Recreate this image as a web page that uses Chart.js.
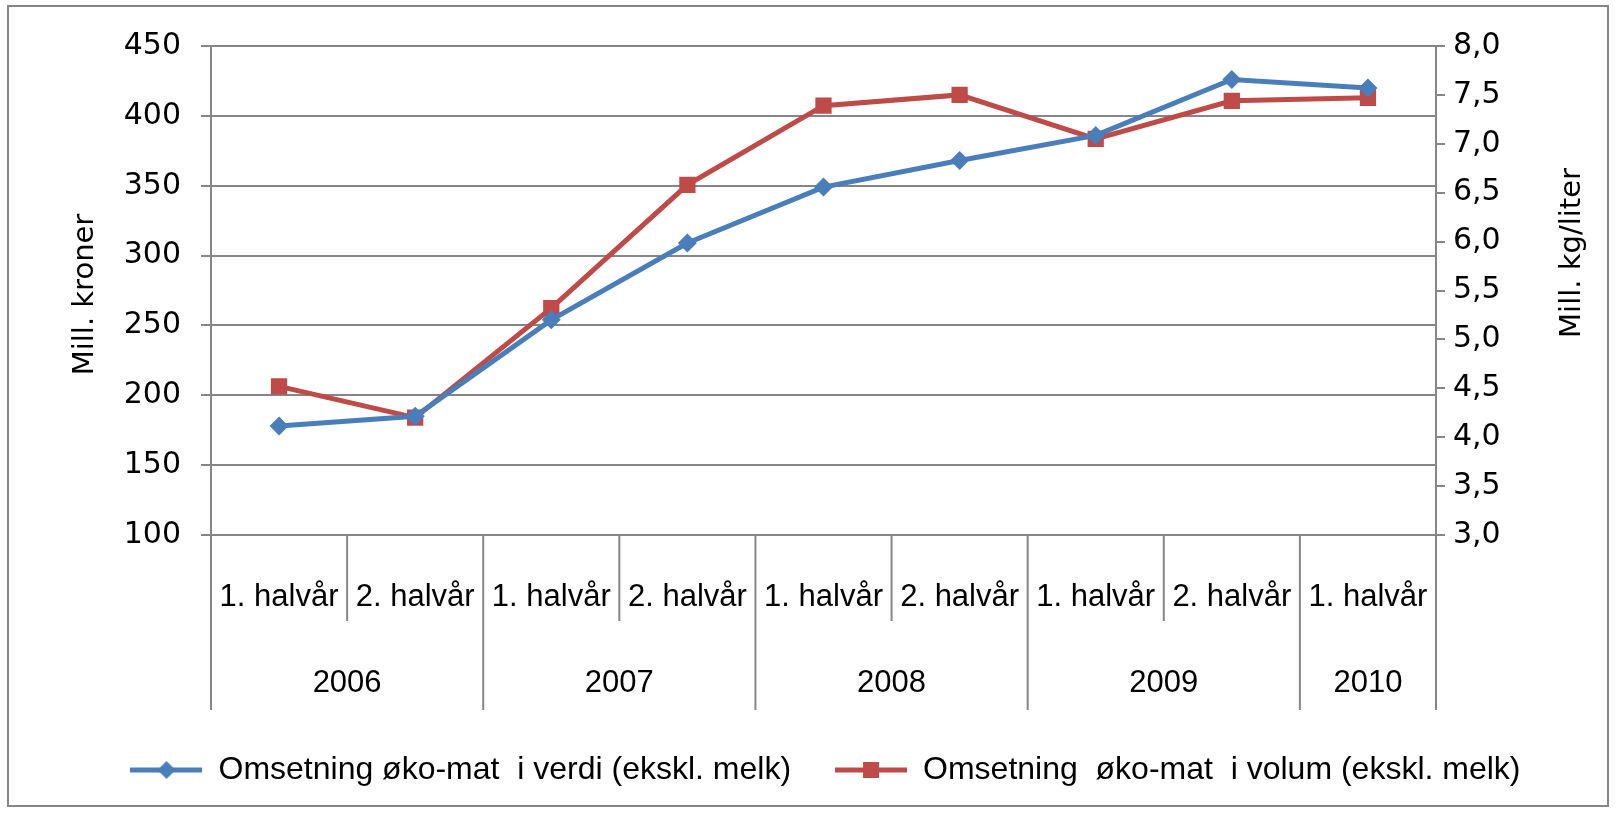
<!DOCTYPE html>
<html>
<head>
<meta charset="utf-8">
<script src="https://cdn.jsdelivr.net/npm/chart.js@4.4.1/dist/chart.umd.min.js"></script>
<style>
    html, body { margin: 0; padding: 0; background: #fff; }
    #wrap { width: 1617px; height: 813px; position: relative; }
</style>
</head>
<body>
<div id="wrap"><canvas id="salesChart"></canvas></div>
<script>
// half-year categories and the year each one belongs to
const periods = ['1. halvår', '2. halvår', '1. halvår', '2. halvår', '1. halvår', '2. halvår', '1. halvår', '2. halvår', '1. halvår'];
const years = ['2006', '2006', '2007', '2007', '2008', '2008', '2009', '2009', '2010'];

// Mill. kroner (left axis)
const valueSales = [178, 185, 254, 309, 349, 368, 386, 426, 420];
// Mill. kg/liter (right axis)
const volumeSales = [4.52, 4.20, 5.32, 6.58, 7.39, 7.50, 7.05, 7.44, 7.47];

const leftTicks = [100, 150, 200, 250, 300, 350, 400, 450];
const rightTicks = ['3,0', '3,5', '4,0', '4,5', '5,0', '5,5', '6,0', '6,5', '7,0', '7,5', '8,0'];

const seriesNames = ['Omsetning øko-mat  i verdi (ekskl. melk)', 'Omsetning  øko-mat  i volum (ekskl. melk)'];
const axisTitles = ['Mill. kroner', 'Mill. kg/liter'];

const blue = '#4A7EBB';
const red = '#BE4B48';
const gridGray = '#868686';
const numFont = '"DejaVu Sans", Verdana, sans-serif';
const textFont = '"Liberation Sans", Arial, sans-serif';

// small line + marker picture used as the legend symbol
function legendSymbol(color, shape) {
    const c = document.createElement('canvas');
    c.width = 72;
    c.height = 24;
    const g = c.getContext('2d');
    g.strokeStyle = color;
    g.fillStyle = color;
    g.lineWidth = 5;
    g.beginPath();
    g.moveTo(0, 12);
    g.lineTo(72, 12);
    g.stroke();
    g.beginPath();
    if (shape === 'diamond') {
        g.moveTo(36, 3); g.lineTo(45, 12); g.lineTo(36, 21); g.lineTo(27, 12);
    } else {
        g.rect(28, 4, 16, 16);
    }
    g.closePath();
    g.fill();
    return c;
}

// separators of the two-level category axis, year labels, axis titles and frame
const chartDecor = {
    id: 'chartDecor',
    afterDraw(chart) {
        const ctx = chart.ctx;
        const x = chart.scales.x;
        const y = chart.scales.y;
        ctx.save();
        ctx.strokeStyle = gridGray;
        ctx.lineWidth = 2;

        for (let i = -1; i < periods.length; i++) {
            let px;
            if (i < 0) px = x.left;
            else if (i === periods.length - 1) px = x.right;
            else px = (x.getPixelForValue(i) + x.getPixelForValue(i + 1)) / 2;
            const yearBreak = i < 0 || i === periods.length - 1 || years[i] !== years[i + 1];
            ctx.beginPath();
            ctx.moveTo(px, x.top);
            ctx.lineTo(px, yearBreak ? x.bottom : x.top + 86);
            ctx.stroke();
        }

        ctx.fillStyle = '#000';
        ctx.font = '31px ' + textFont;
        ctx.textAlign = 'center';
        ctx.textBaseline = 'middle';
        const seen = [...new Set(years)];
        seen.forEach(yr => {
            const first = years.indexOf(yr);
            const last = years.lastIndexOf(yr);
            const cx = (x.getPixelForValue(first) + x.getPixelForValue(last)) / 2;
            ctx.fillText(yr, cx, x.top + 148);
        });

        ctx.font = '29px ' + numFont;
        ctx.save();
        ctx.translate(85, (y.top + y.bottom) / 2 + 4);
        ctx.rotate(-Math.PI / 2);
        ctx.fillText(axisTitles[0], 0, 0);
        ctx.restore();
        ctx.save();
        ctx.translate(chart.width - 45, 253);
        ctx.rotate(-Math.PI / 2);
        ctx.fillText(axisTitles[1], 0, 0);
        ctx.restore();

        ctx.strokeRect(8, 6, chart.width - 17, chart.height - 13);
        ctx.restore();
    }
};

const ctx = document.getElementById('salesChart').getContext('2d');

new Chart(ctx, {
    type: 'line',
    data: {
        labels: periods,
        datasets: [{
            label: seriesNames[0],
            data: valueSales,
            yAxisID: 'y',
            borderColor: blue,
            backgroundColor: blue,
            borderWidth: 5,
            pointStyle: 'rectRot',
            pointRadius: 9.5,
            pointBorderWidth: 0,
            tension: 0
        }, {
            label: seriesNames[1],
            data: volumeSales,
            yAxisID: 'y1',
            borderColor: red,
            backgroundColor: red,
            borderWidth: 5,
            pointStyle: 'rect',
            pointRadius: 11.5,
            pointBorderWidth: 0,
            tension: 0
        }]
    },
    options: {
        responsive: true,
        maintainAspectRatio: false,
        animation: false,
        layout: {
            padding: { left: 44, right: 10, top: 46, bottom: 17 }
        },
        plugins: {
            tooltip: { enabled: false },
            legend: {
                position: 'bottom',
                labels: {
                    usePointStyle: true,
                    pointStyleWidth: 72,
                    padding: 44,
                    color: '#000',
                    font: { family: textFont, size: 32 },
                    generateLabels(chart) {
                        const items = Chart.defaults.plugins.legend.labels.generateLabels(chart);
                        items[0].pointStyle = legendSymbol(blue, 'diamond');
                        items[1].pointStyle = legendSymbol(red, 'square');
                        return items;
                    }
                }
            }
        },
        scales: {
            x: {
                offset: true,
                grid: { display: false, drawTicks: false, offset: true },
                border: { display: true, color: gridGray, width: 2 },
                ticks: {
                    color: '#000',
                    padding: 44,
                    maxRotation: 0,
                    autoSkip: false,
                    font: { family: textFont, size: 31 }
                },
                afterFit(scale) { scale.height = 175; }
            },
            y: {
                position: 'left',
                min: 100,
                max: 450,
                afterBuildTicks(scale) { scale.ticks = leftTicks.map(v => ({ value: v })); },
                grid: { color: gridGray, lineWidth: 2, tickLength: 10 },
                border: { display: true, color: gridGray, width: 2 },
                ticks: {
                    color: '#000',
                    padding: 20,
                    font: { family: numFont, size: 30 }
                },
                afterFit(scale) { scale.width = 211 - 44; }
            },
            y1: {
                position: 'right',
                min: 3,
                max: 8,
                afterBuildTicks(scale) {
                    scale.ticks = rightTicks.map(t => ({ value: parseFloat(t.replace(',', '.')) }));
                },
                grid: { drawOnChartArea: false, color: gridGray, lineWidth: 2, tickLength: 9 },
                border: { display: true, color: gridGray, width: 2 },
                ticks: {
                    color: '#000',
                    padding: 8,
                    font: { family: numFont, size: 30 },
                    callback: (value, index) => rightTicks[index]
                },
                afterFit(scale) { scale.width = 1617 - 10 - 1436; }
            }
        }
    },
    plugins: [chartDecor]
});
</script>
</body>
</html>
